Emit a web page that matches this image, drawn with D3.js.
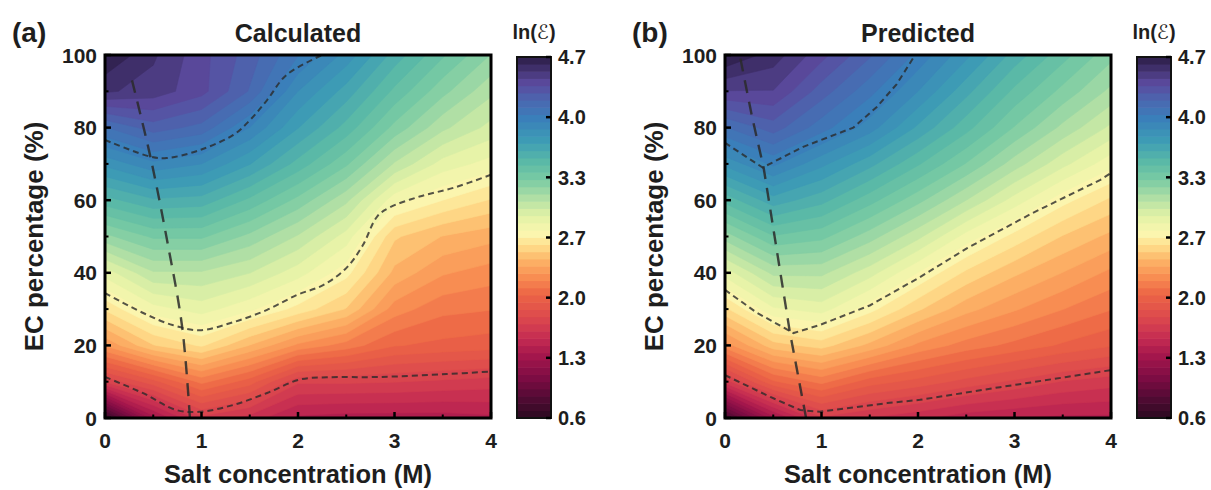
<!DOCTYPE html>
<html>
<head>
<meta charset="utf-8">
<script src="https://cdn.jsdelivr.net/npm/d3@7"></script>
<style>
  body { margin: 0; background: #fff; }
  svg text { font-family: "Liberation Sans", Arial, sans-serif; font-weight: bold; fill: #1e1e1e; }
</style>
</head>
<body>
<svg id="chart" width="1211" height="490"></svg>
<script>
// grid: columns = salt concentration, rows = EC percentage (top row = 100 %)
const saltConc = [0, 0.5, 1, 1.5, 2, 2.5, 3, 3.5, 4];
const ecPercent = [100, 90, 80, 70, 60, 50, 40, 30, 20, 10, 0];

const calculated = [
    [4.70, 4.55, 4.40, 4.25, 4.05, 3.85, 3.60, 3.40, 3.22],
    [4.55, 4.50, 4.40, 4.20, 3.88, 3.68, 3.45, 3.25, 3.08],
    [4.12, 4.25, 4.18, 3.96, 3.72, 3.52, 3.28, 3.08, 2.95],
    [3.82, 3.94, 3.88, 3.72, 3.52, 3.32, 3.05, 2.86, 2.78],
    [3.52, 3.62, 3.60, 3.45, 3.28, 3.08, 2.76, 2.65, 2.56],
    [3.20, 3.32, 3.32, 3.20, 3.05, 2.86, 2.50, 2.40, 2.35],
    [2.85, 3.05, 3.05, 2.98, 2.85, 2.68, 2.38, 2.25, 2.20],
    [2.58, 2.78, 2.85, 2.75, 2.62, 2.48, 2.20, 2.10, 2.08],
    [2.25, 2.48, 2.58, 2.40, 2.22, 2.12, 2.00, 1.97, 1.95],
    [1.68, 1.88, 2.10, 1.95, 1.68, 1.68, 1.67, 1.65, 1.63],
    [0.65, 1.30, 1.64, 1.55, 1.40, 1.38, 1.38, 1.38, 1.40]
];

const predicted = [
    [4.70, 4.58, 4.40, 4.22, 4.02, 3.82, 3.60, 3.42, 3.25],
    [4.45, 4.45, 4.25, 4.07, 3.88, 3.66, 3.45, 3.28, 3.12],
    [4.12, 4.25, 4.08, 3.92, 3.70, 3.50, 3.30, 3.12, 2.96],
    [3.82, 3.98, 3.82, 3.66, 3.48, 3.30, 3.10, 2.92, 2.76],
    [3.50, 3.68, 3.58, 3.42, 3.25, 3.06, 2.86, 2.68, 2.55],
    [3.18, 3.38, 3.33, 3.18, 3.00, 2.78, 2.62, 2.48, 2.38],
    [2.85, 3.08, 3.08, 2.93, 2.73, 2.55, 2.42, 2.32, 2.22],
    [2.55, 2.80, 2.85, 2.68, 2.50, 2.35, 2.25, 2.16, 2.08],
    [2.20, 2.45, 2.52, 2.38, 2.22, 2.12, 2.05, 1.98, 1.92],
    [1.62, 1.98, 2.10, 1.95, 1.88, 1.80, 1.73, 1.66, 1.62],
    [0.75, 1.30, 1.65, 1.58, 1.52, 1.45, 1.42, 1.40, 1.40]
];

// dashed guide lines, [salt (M), EC (%)]
const calcRidge = [[0.28, 93], [0.47, 72], [0.65, 48], [0.8, 25], [0.88, 0]];
const calcUpper = [[0, 76.6], [0.47, 72], [0.64, 71.6], [0.98, 73.8], [1.33, 78], [1.5, 82], [1.68, 87.6], [1.88, 94.5], [2.25, 100]];
const calcMiddle = [[0, 34.4], [0.39, 29], [0.7, 25.6], [0.98, 24.2], [1.33, 26.4], [1.68, 29.8], [1.99, 33.9], [2.26, 36.6], [2.5, 41.3], [2.67, 47.5], [2.82, 55.5], [2.95, 58], [3.26, 61], [3.61, 63.4], [4, 67]];
const calcLower = [[0, 11.3], [0.39, 6.9], [0.74, 2.2], [0.98, 1.7], [1.33, 3.6], [1.68, 6.9], [2.02, 10.6], [2.3, 11.2], [2.85, 11.3], [3.54, 12.1], [4, 12.8]];

const predRidge = [[0.16, 99], [0.28, 83], [0.4, 69], [0.67, 24], [0.84, 0]];
const predUpper = [[0, 75.8], [0.39, 69], [0.81, 74.7], [1.33, 80], [1.57, 85.6], [1.78, 92], [1.97, 100]];
const predMiddle = [[0, 35.3], [0.33, 29], [0.71, 23.4], [0.98, 25.6], [1.5, 31], [2.02, 38.8], [2.51, 46.8], [3.19, 56.5], [3.89, 65.6], [4, 67.5]];
const predLower = [[0, 11.8], [0.47, 5.8], [0.78, 2.2], [0.98, 1.7], [1.68, 4.1], [2.02, 5], [2.85, 8.5], [3.54, 11.3], [4, 13.2]];

const xTicks = [0, 1, 2, 3, 4];
const yTicks = [0, 20, 40, 60, 80, 100];
const cbarLabels = ["0.6", "1.3", "2.0", "2.7", "3.3", "4.0", "4.7"];
const cbarMin = 0.6, cbarMax = 4.7;

const colorStops = [0.6, 0.8, 1.05, 1.3, 1.5, 1.75, 2.0, 2.2, 2.4, 2.55, 2.7, 2.9, 3.1, 3.3, 3.5, 3.75, 4.0, 4.2, 4.4, 4.7];
const colorHex = ["#2b0a20", "#4d0b32", "#7c0c43", "#a3164c", "#c42b52", "#dd4a4d", "#ec6445", "#f88d52", "#fdb668", "#fedc8a", "#fbf7b0", "#e1f2a6", "#b0dfa5", "#7ccca4", "#5bbaa6", "#3d9cb5", "#3a7fba", "#4a68b0", "#5b4a9e", "#2b1d46"];

const color = d3.scaleLinear().domain(colorStops).range(colorHex).interpolate(d3.interpolateRgb);

const svg = d3.select("#chart");
const plotTop = 55, plotBottom = 418, plotW = 386;
const nBands = 50;
const step = (cbarMax - cbarMin) / nBands;
const levels = d3.range(nBands).map(i => cbarMin + i * step);

function drawPanel(cfg) {
    const x = d3.scaleLinear().domain([0, 4]).range([cfg.left, cfg.left + plotW]);
    const y = d3.scaleLinear().domain([0, 100]).range([plotBottom, plotTop]);
    const g = svg.append("g");

    const clipId = "clip-" + cfg.tag;
    svg.append("clipPath").attr("id", clipId)
        .append("rect")
        .attr("x", x(0)).attr("y", y(100))
        .attr("width", x(4) - x(0)).attr("height", y(0) - y(100));

    // filled contours
    const nx = saltConc.length, ny = ecPercent.length;
    const gx = d3.scaleLinear().domain([0.5, nx - 0.5]).range([x(saltConc[0]), x(saltConc[nx - 1])]);
    const gy = d3.scaleLinear().domain([0.5, ny - 0.5]).range([y(ecPercent[0]), y(ecPercent[ny - 1])]);
    const proj = d3.geoTransform({
        point: function(px, py) { this.stream.point(gx(px), gy(py)); }
    });
    const path = d3.geoPath(proj);
    const bands = d3.contours().size([nx, ny]).thresholds(levels)(cfg.grid.flat());

    const field = g.append("g").attr("clip-path", `url(#${clipId})`);
    field.append("rect")
        .attr("x", x(0)).attr("y", y(100))
        .attr("width", x(4) - x(0)).attr("height", y(0) - y(100))
        .attr("fill", color(cbarMin));
    field.selectAll("path.band")
        .data(bands)
        .enter().append("path")
        .attr("class", "band")
        .attr("d", path)
        .attr("fill", d => color(Math.min(d.value + step / 2, cbarMax)))
        .attr("stroke", d => color(Math.min(d.value + step / 2, cbarMax)))
        .attr("stroke-width", 0.6);

    // dashed guides
    const line = d3.line().x(d => x(d[0])).y(d => y(d[1])).curve(cfg.curve);
    field.selectAll("path.guide")
        .data(cfg.guides)
        .enter().append("path")
        .attr("class", "guide")
        .attr("d", line)
        .attr("fill", "none")
        .attr("stroke", "#2a2a2a")
        .attr("stroke-opacity", 0.8)
        .attr("stroke-width", 2)
        .attr("stroke-dasharray", "6,4");
    field.append("path")
        .attr("d", line(cfg.ridge))
        .attr("fill", "none")
        .attr("stroke", "#2a2a2a")
        .attr("stroke-opacity", 0.85)
        .attr("stroke-width", 2.4)
        .attr("stroke-dasharray", "13,9");

    // ticks (inward)
    const xMinor = d3.range(0.5, 4, 1);
    const yMinor = d3.range(10, 100, 20);
    g.selectAll("line.xt").data(xTicks).enter().append("line")
        .attr("x1", d => x(d)).attr("x2", d => x(d))
        .attr("y1", plotBottom).attr("y2", plotBottom - 6)
        .attr("stroke", "#000").attr("stroke-width", 2.5);
    g.selectAll("line.xm").data(xMinor).enter().append("line")
        .attr("x1", d => x(d)).attr("x2", d => x(d))
        .attr("y1", plotBottom).attr("y2", plotBottom - 3.5)
        .attr("stroke", "#000").attr("stroke-width", 2);
    g.selectAll("line.yt").data(yTicks).enter().append("line")
        .attr("x1", x(0)).attr("x2", x(0) + 6)
        .attr("y1", d => y(d)).attr("y2", d => y(d))
        .attr("stroke", "#000").attr("stroke-width", 2.5);
    g.selectAll("line.ym").data(yMinor).enter().append("line")
        .attr("x1", x(0)).attr("x2", x(0) + 3.5)
        .attr("y1", d => y(d)).attr("y2", d => y(d))
        .attr("stroke", "#000").attr("stroke-width", 2);

    // frame
    g.append("rect")
        .attr("x", x(0)).attr("y", y(100))
        .attr("width", x(4) - x(0)).attr("height", y(0) - y(100))
        .attr("fill", "none").attr("stroke", "#000").attr("stroke-width", 3);

    // tick labels
    g.selectAll("text.xl").data(xTicks).enter().append("text")
        .attr("x", d => x(d)).attr("y", plotBottom + 30)
        .attr("text-anchor", "middle").attr("font-size", 21)
        .text(d => d);
    g.selectAll("text.yl").data(yTicks).enter().append("text")
        .attr("x", x(0) - 8).attr("y", d => y(d)).attr("dy", "0.36em")
        .attr("text-anchor", "end").attr("font-size", 21)
        .text(d => d);

    // axis titles
    g.append("text")
        .attr("x", (x(0) + x(4)) / 2).attr("y", 483)
        .attr("text-anchor", "middle").attr("font-size", 25.5)
        .text("Salt concentration (M)");
    g.append("text")
        .attr("transform", `translate(${x(0) - 62},${(plotTop + plotBottom) / 2}) rotate(-90)`)
        .attr("text-anchor", "middle").attr("font-size", 26)
        .text("EC percentage (%)");
    g.append("text")
        .attr("x", (x(0) + x(4)) / 2).attr("y", 42)
        .attr("text-anchor", "middle").attr("font-size", 25)
        .text(cfg.title);
    g.append("text")
        .attr("x", x(0) - 93).attr("y", 42)
        .attr("font-size", 28)
        .text(cfg.letter);

    // colour bar
    const cbX = cfg.left + 412, cbW = 34;
    const cy = d3.scaleLinear().domain([cbarMin, cbarMax]).range([plotBottom, plotTop + 2]);
    g.selectAll("rect.cb").data(levels).enter().append("rect")
        .attr("x", cbX).attr("width", cbW)
        .attr("y", d => cy(d + step) - 0.3)
        .attr("height", d => cy(d) - cy(d + step) + 0.6)
        .attr("fill", d => color(d + step / 2));
    g.append("rect")
        .attr("x", cbX).attr("y", cy(cbarMax))
        .attr("width", cbW).attr("height", cy(cbarMin) - cy(cbarMax))
        .attr("fill", "none").attr("stroke", "#111").attr("stroke-width", 2);
    const cbTicks = cbarLabels.map((s, i) => ({ v: cbarMin + i * (cbarMax - cbarMin) / (cbarLabels.length - 1), s }));
    g.selectAll("line.cbt").data(cbTicks).enter().append("line")
        .attr("x1", cbX + cbW).attr("x2", cbX + cbW - 5)
        .attr("y1", d => cy(d.v)).attr("y2", d => cy(d.v))
        .attr("stroke", "#000").attr("stroke-width", 2.5);
    g.selectAll("text.cbl").data(cbTicks).enter().append("text")
        .attr("x", cbX + cbW + 7).attr("y", d => cy(d.v)).attr("dy", "0.36em")
        .attr("font-size", 20)
        .text(d => d.s);
    const lt = g.append("text")
        .attr("x", cbX + cbW / 2).attr("y", 39)
        .attr("text-anchor", "middle").attr("font-size", 20);
    lt.append("tspan").text("ln(");
    lt.append("tspan").attr("font-family", "DejaVu Sans").attr("font-weight", "normal").attr("font-style", "italic").text("\u2130");
    lt.append("tspan").text(")");
}

drawPanel({
    tag: "a", left: 105, title: "Calculated", letter: "(a)", grid: calculated,
    guides: [calcUpper, calcMiddle, calcLower], ridge: calcRidge, curve: d3.curveCatmullRom
});
drawPanel({
    tag: "b", left: 725, title: "Predicted", letter: "(b)", grid: predicted,
    guides: [predUpper, predMiddle, predLower], ridge: predRidge, curve: d3.curveLinear
});
</script>
</body>
</html>
